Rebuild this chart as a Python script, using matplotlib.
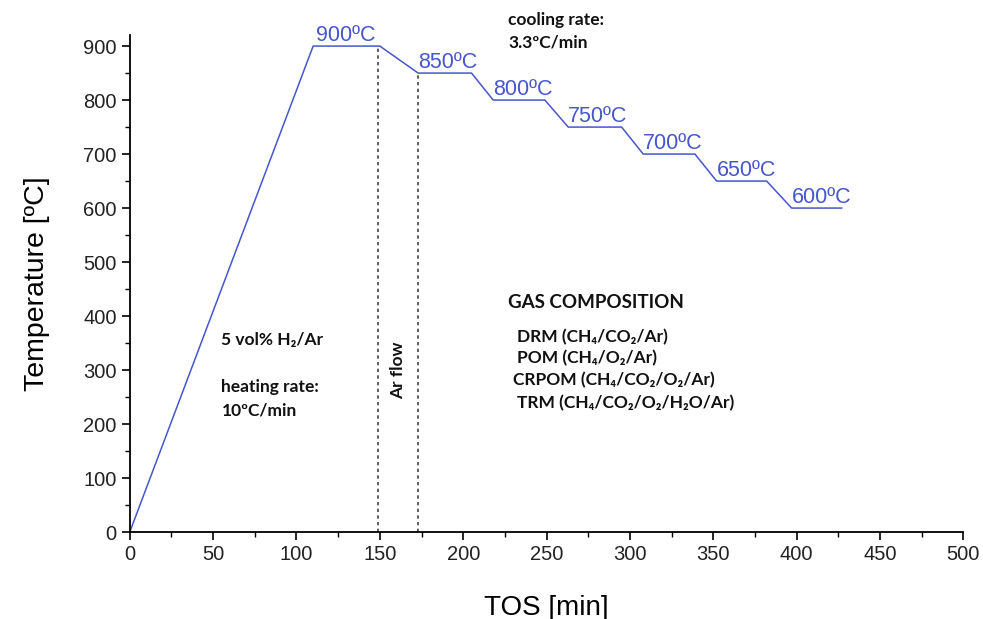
import matplotlib
matplotlib.use('Agg')
import matplotlib.pyplot as plt
from matplotlib.ticker import MultipleLocator

# temperature programme
tos = [0, 110, 150, 173, 205, 218, 249, 263, 295, 308, 339, 352, 382, 397, 427]
temp = [0, 900, 900, 850, 850, 800, 800, 750, 750, 700, 700, 650, 650, 600, 600]

# plateau labels: start time, temperature
plateau_t = [112, 173, 218, 263, 308, 352, 397]
plateau_T = [900, 850, 800, 750, 700, 650, 600]

# Ar flow window (dotted lines)
ar_t = [149, 173]
ar_T = [900, 850]

gas_lines = ['DRM (CH₄/CO₂/Ar)', 'POM (CH₄/O₂/Ar)',
             'CRPOM (CH₄/CO₂/O₂/Ar)', 'TRM (CH₄/CO₂/O₂/H₂O/Ar)']
gas_x = [232, 232, 230, 232]
gas_y = [361, 322, 281, 239]

blue = '#4656cc'
axfont = ['Liberation Sans', 'DejaVu Sans']
notefont = ['Lato', 'DejaVu Sans']

fig = plt.figure(figsize=(9.83, 6.19), dpi=100)
ax = fig.add_axes([0.132, 0.1405, 0.848, 0.8025])

ax.plot(tos, temp, color=blue, lw=1.1)
for t, T in zip(ar_t, ar_T):
    ax.vlines(t, 0, T, colors='#444444', linestyles=(0, (2, 2)), lw=1.2)

for t, T in zip(plateau_t, plateau_T):
    ax.text(t, T + 1, f'{T}ºC', color=blue, fontsize=15.5, family=axfont,
            ha='left', va='bottom')

ax.set_xlim(0, 500)
ax.set_ylim(0, 920)
ax.xaxis.set_major_locator(MultipleLocator(50))
ax.xaxis.set_minor_locator(MultipleLocator(25))
ax.yaxis.set_major_locator(MultipleLocator(100))
ax.yaxis.set_minor_locator(MultipleLocator(50))
ax.spines['top'].set_visible(False)
ax.spines['right'].set_visible(False)
ax.spines['left'].set_linewidth(1.3)
ax.spines['bottom'].set_linewidth(1.3)
ax.tick_params(which='major', length=6, width=1.2, direction='out', labelsize=14.5)
ax.tick_params(which='minor', length=3.5, width=1.0, direction='out')
for lab in ax.get_xticklabels() + ax.get_yticklabels():
    lab.set_family(axfont)
    lab.set_color('#222222')

ax.set_xlabel('TOS [min]', fontsize=20, family=axfont, labelpad=22)
ax.set_ylabel('Temperature [ºC]', fontsize=20.5, family=axfont, labelpad=24)

nk = dict(fontsize=12.5, fontweight='bold', family=notefont, color='#111111',
          clip_on=False)
ax.text(55, 355, '5 vol% H₂/Ar', va='center', **nk)
ax.text(55, 268, 'heating rate:', va='center', **nk)
ax.text(55, 226, '10ºC/min', va='center', **nk)
ax.text(161, 300, 'Ar flow', rotation=90, ha='center', va='center', **nk)
ax.text(227, 948, 'cooling rate:', va='center', **nk)
ax.text(227, 906, '3.3ºC/min', va='center', **nk)
ax.text(227, 426, 'GAS COMPOSITION', va='center', **dict(nk, fontsize=13.5))
for s, x, y in zip(gas_lines, gas_x, gas_y):
    ax.text(x, y, s, va='center', **nk)

fig.savefig('out.png', dpi=100)
